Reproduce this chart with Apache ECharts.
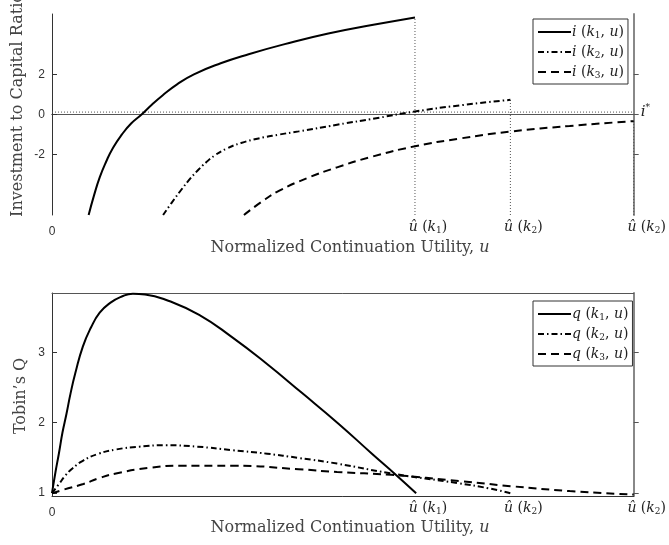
<!DOCTYPE html>
<html>
<head>
<meta charset="utf-8">
<script src="https://cdn.jsdelivr.net/npm/echarts@6/dist/echarts.min.js"></script>
<style>html,body{margin:0;padding:0;background:#fff}#c{width:669px;height:545px}</style>
</head>
<body>
<div id="c"></div>
<script>
// ---- data ----
const iStar = 0.12;
const xTickValues = [0, 0.624, 0.788, 1.0];
const xTickLabels = ['0', 'û(k1)', 'û(k2)', 'û(k2)'];
const topYTicks = [-2, 0, 2];
const botYTicks = [1, 2, 3];

const i1U = [0.063, 0.072, 0.082, 0.093, 0.105, 0.12, 0.136, 0.154, 0.172, 0.19, 0.215, 0.244, 0.29, 0.338, 0.40, 0.475, 0.55, 0.624];
const i1V = [-5, -4.05, -3.13, -2.35, -1.65, -1.0, -0.45, 0, 0.5, 0.95, 1.5, 2.0, 2.55, 3.0, 3.5, 4.03, 4.45, 4.83];
const i2U = [0.191, 0.205, 0.22, 0.235, 0.25, 0.265, 0.28, 0.30, 0.325, 0.355, 0.39, 0.424, 0.49, 0.56, 0.624, 0.70, 0.788];
const i2V = [-5, -4.42, -3.83, -3.28, -2.8, -2.38, -2.03, -1.7, -1.42, -1.19, -1.0, -0.84, -0.51, -0.17, 0.15, 0.45, 0.73];
const i3U = [0.33, 0.36, 0.39, 0.44, 0.49, 0.55, 0.624, 0.70, 0.788, 0.89, 1.0];
const i3V = [-5, -4.35, -3.8, -3.15, -2.63, -2.1, -1.58, -1.2, -0.85, -0.57, -0.33];

const q1U = [0, 0.006, 0.012, 0.018, 0.025, 0.032, 0.04, 0.053, 0.067, 0.082, 0.1, 0.12, 0.139, 0.16, 0.2, 0.253, 0.31, 0.367, 0.43, 0.492, 0.55, 0.59, 0.626];
const q1V = [1.0, 1.3, 1.57, 1.86, 2.13, 2.42, 2.7, 3.08, 3.35, 3.56, 3.7, 3.79, 3.83, 3.82, 3.73, 3.53, 3.21, 2.85, 2.42, 1.99, 1.56, 1.27, 1.0];
const q2U = [0, 0.012, 0.023, 0.035, 0.053, 0.08, 0.11, 0.15, 0.196, 0.25, 0.31, 0.37, 0.424, 0.49, 0.583, 0.70, 0.75, 0.788];
const q2V = [1.0, 1.13, 1.25, 1.35, 1.46, 1.56, 1.62, 1.66, 1.68, 1.66, 1.61, 1.56, 1.50, 1.42, 1.28, 1.14, 1.07, 1.0];
const q3U = [0, 0.02, 0.054, 0.08, 0.11, 0.167, 0.225, 0.31, 0.424, 0.49, 0.583, 0.703, 0.788, 0.89, 1.0];
const q3V = [1.0, 1.05, 1.13, 1.21, 1.28, 1.36, 1.39, 1.39, 1.34, 1.30, 1.26, 1.17, 1.10, 1.03, 0.98];

const topNames = ['i1', 'i2', 'i3'];
const botNames = ['q1', 'q2', 'q3'];

// ---- helpers ----
const zip = (u, v) => u.map((x, k) => [x, v[k]]);
const SERIF = 'DejaVu Serif';
const SANS = 'Liberation Sans';
const dashTypes = ['solid', [6, 3, 1.5, 3], [8, 5]];
const TOP_MIN = -5, TOP_MAX = 5, BOT_MIN = 0.96, BOT_MAX = 3.84;

const richMath = {
  it: { fontFamily: SERIF, fontStyle: 'italic', fontSize: 14, color: '#222' },
  itp: { fontFamily: SERIF, fontStyle: 'italic', fontSize: 14, color: '#222', padding: [0, 0, 0, 26] },
  rm: { fontFamily: SERIF, fontSize: 14, color: '#222' },
  sub: { fontFamily: SERIF, fontSize: 9, color: '#222', padding: [7, 0, 0, 0] },
  s: { fontFamily: SANS, fontSize: 12, color: '#333', padding: [7, 0, 0, 0] }
};
function xLabel(v) {
  const k = xTickValues.findIndex(t => Math.abs(t - v) < 1e-6);
  if (k < 0) return '';
  const t = xTickLabels[k];
  if (t === '0') return '{s|0}';
  const sub = t.match(/k(\d)/)[1];
  return '{itp|û}{rm| (}{it|k}{sub|' + sub + '}{rm|)}';
}
function legendLabel(name) {
  const f = name[0], sub = name[1];
  return '{it|' + f + '}{rm| (}{it|k}{sub|' + sub + '}{rm|, }{it|u}{rm|)}';
}

function xAxes(gi) {
  return [
    { type: 'value', gridIndex: gi, min: 0, max: 1, position: 'bottom',
      axisLine: { show: true, lineStyle: { color: '#333', width: 1 } },
      axisTick: { show: false }, splitLine: { show: false },
      axisLabel: { show: true, customValues: xTickValues, formatter: xLabel, margin: 4, rich: richMath } },
    { type: 'value', gridIndex: gi, min: 0, max: 1, position: 'top',
      axisLine: { show: true, lineStyle: { color: '#555', width: 1 } },
      axisTick: { show: false }, axisLabel: { show: false }, splitLine: { show: false } }
  ];
}
function yAxes(gi, mn, mx, ticks) {
  return [
    { type: 'value', gridIndex: gi, min: mn, max: mx, position: 'left',
      axisLine: { show: true, onZero: false, lineStyle: { color: '#333', width: 1 } },
      axisTick: { show: true, inside: true, length: 5, customValues: ticks, lineStyle: { color: '#333' } },
      axisLabel: { show: true, customValues: ticks, margin: 7, fontFamily: SANS, fontSize: 12, color: '#333' },
      splitLine: { show: false } },
    { type: 'value', gridIndex: gi, min: mn, max: mx, position: 'right',
      axisLine: { show: true, onZero: false, lineStyle: { color: '#888', width: 2 } },
      axisTick: { show: true, inside: false, length: 5, customValues: ticks, lineStyle: { color: '#555' } },
      axisLabel: { show: false }, splitLine: { show: false } }
  ];
}

const series = [];
const topData = [zip(i1U, i1V), zip(i2U, i2V), zip(i3U, i3V)];
const botData = [zip(q1U, q1V), zip(q2U, q2V), zip(q3U, q3V)];
const curve = (name, xi, yi, d, k) => ({
  name: name, type: 'line', xAxisIndex: xi, yAxisIndex: yi, data: d,
  smooth: 0.5, showSymbol: false, symbol: 'none', clip: true, z: 5,
  lineStyle: { color: '#000', width: 2, type: dashTypes[k] }, itemStyle: { color: '#000' }
});
topData.forEach((d, k) => series.push(curve(topNames[k], 0, 0, d, k)));
botData.forEach((d, k) => series.push(curve(botNames[k], 2, 2, d, k)));
// dotted drop lines from each investment curve end down to the axis
topData.forEach((d) => {
  const last = d[d.length - 1];
  series.push({ type: 'line', xAxisIndex: 0, yAxisIndex: 0, data: [[last[0], TOP_MIN], last],
    symbol: 'none', silent: true, z: 3, lineStyle: { color: '#555', width: 1, type: [1, 2] } });
});
// i* reference line
series.push({ type: 'line', xAxisIndex: 0, yAxisIndex: 0, data: [[0, iStar], [1, iStar]],
  symbol: 'none', silent: true, z: 3, lineStyle: { color: '#555', width: 1, type: [1, 2] },
  endLabel: { show: true, distance: 7, formatter: '{it|i}{sup|*}',
    rich: { it: { fontFamily: SERIF, fontStyle: 'italic', fontSize: 15, color: '#222' },
            sup: { fontFamily: SERIF, fontSize: 9, color: '#222', padding: [0, 0, 9, 0] } } } });

const legendCommon = {
  orient: 'vertical', left: 533, itemWidth: 33, itemHeight: 10, itemGap: 4,
  padding: [5, 4, 4, 4], borderColor: '#333', borderWidth: 1, backgroundColor: '#fff',
  formatter: legendLabel, itemStyle: { opacity: 0 },
  textStyle: { rich: richMath, lineHeight: 16, padding: [0, 0, 0, -4] }
};

const option = {
  animation: false,
  backgroundColor: '#fff',
  grid: [
    { left: 52, top: 14, width: 585, height: 201 },
    { left: 52, top: 293, width: 585, height: 203 }
  ],
  xAxis: [...xAxes(0), ...xAxes(1)],
  yAxis: [...yAxes(0, TOP_MIN, TOP_MAX, topYTicks), ...yAxes(1, BOT_MIN, BOT_MAX, botYTicks)],
  legend: [
    Object.assign({}, legendCommon, { top: 19, data: topNames }),
    Object.assign({}, legendCommon, { top: 301, data: botNames })
  ],
  series: series,
  graphic: [
    { type: 'text', x: 18, y: 105, rotation: Math.PI / 2,
      style: { text: 'Investment to Capital Ratio', font: '16px "DejaVu Serif"', fill: '#444', align: 'center', verticalAlign: 'middle' } },
    { type: 'text', x: 21, y: 396, rotation: Math.PI / 2,
      style: { text: 'Tobin’s Q', font: '16px "DejaVu Serif"', fill: '#444', align: 'center', verticalAlign: 'middle' } },
    { type: 'text', x: 350, y: 248,
      style: { text: '{rm|Normalized Continuation Utility, }{it|u}', align: 'center', verticalAlign: 'middle',
        rich: { rm: { fontFamily: SERIF, fontSize: 16, fill: '#444' }, it: { fontFamily: SERIF, fontStyle: 'italic', fontSize: 16, fill: '#444' } } } },
    { type: 'text', x: 350, y: 528,
      style: { text: '{rm|Normalized Continuation Utility, }{it|u}', align: 'center', verticalAlign: 'middle',
        rich: { rm: { fontFamily: SERIF, fontSize: 16, fill: '#444' }, it: { fontFamily: SERIF, fontStyle: 'italic', fontSize: 16, fill: '#444' } } } }
  ]
};
const chart = echarts.init(document.getElementById('c'));
chart.setOption(option);
</script>
</body>
</html>
